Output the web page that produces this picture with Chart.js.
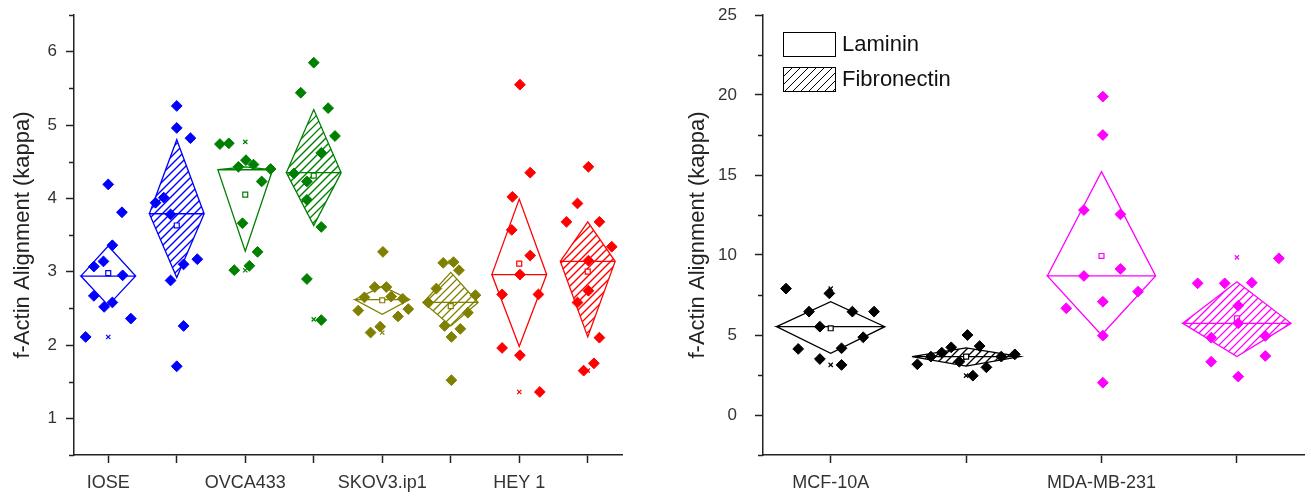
<!DOCTYPE html>
<html>
<head>
<meta charset="utf-8">
<script src="https://cdn.jsdelivr.net/npm/chart.js"></script>
<style>
    html, body { margin: 0; padding: 0; background: #fff; }
    body { width: 1311px; height: 497px; position: relative; overflow: hidden; }
    canvas { position: absolute; top: 0; }
    #left { left: 0; }
    #right { left: 660px; }
</style>
</head>
<body>
<canvas id="left" width="640" height="497"></canvas>
<canvas id="right" width="651" height="497"></canvas>
<script>
// ---- left panel (ovarian cell lines) ----
const leftCategories = ['IOSE', 'OVCA433', 'SKOV3.ip1', 'HEY 1'];
const leftCategoryPos = [1, 3, 5, 7];
const leftGroupPos = [1, 2, 3, 4, 5, 6, 7, 8];
const leftColors = ['#0000ff', '#0000ff', '#008000', '#008000', '#808000', '#808000', '#ff0000', '#ff0000'];
const leftHatched = [false, true, false, true, false, true, false, true];
const leftQ1 = [2.54, 2.92, 3.28, 3.63, 2.42, 2.26, 1.98, 2.11];
const leftMedian = [2.94, 3.79, 4.39, 4.35, 2.62, 2.58, 2.96, 3.14];
const leftQ3 = [3.35, 4.80, 4.43, 5.21, 2.80, 2.99, 3.99, 3.68];
const leftMean = [2.98, 3.63, 4.05, 4.31, 2.61, 2.53, 3.11, 3.00];
const leftMin = [2.11, 1.71, 3.02, 2.35, 2.17, 1.52, 1.36, 1.65];
const leftMax = [4.19, 5.26, 4.77, 5.85, 3.27, 3.13, 5.55, 4.43];
const leftYTicks = [1, 2, 3, 4, 5, 6];
const leftYMinor = [0.5, 1.5, 2.5, 3.5, 4.5, 5.5, 6.5];

// [jittered x, kappa]
const ioseLam = [[1.00, 4.19], [1.20, 3.81], [1.06, 3.36], [0.93, 3.14], [0.79, 3.07], [1.21, 2.95],
    [0.79, 2.67], [1.06, 2.58], [0.94, 2.52], [1.33, 2.36], [0.67, 2.11]];
const ioseFib = [[2.00, 5.26], [2.00, 4.96], [2.20, 4.82], [1.69, 3.94], [1.81, 4.01], [1.91, 3.78],
    [2.10, 3.10], [2.30, 3.17], [1.91, 2.88], [2.10, 2.26], [2.00, 1.71]];
const ovcaLam = [[2.63, 4.74], [2.76, 4.75], [2.90, 4.43], [3.01, 4.52], [3.12, 4.46], [3.37, 4.40],
    [3.24, 4.23], [2.96, 3.66], [3.18, 3.27], [3.06, 3.08], [2.84, 3.02]];
const ovcaFib = [[4.00, 5.85], [3.81, 5.44], [4.21, 5.23], [4.31, 4.85], [4.11, 4.62], [3.71, 4.34],
    [3.90, 4.23], [3.90, 3.98], [4.11, 3.61], [3.90, 2.90], [4.11, 2.34]];
const skovLam = [[5.01, 3.27], [4.89, 2.79], [5.06, 2.79], [4.74, 2.65], [5.13, 2.66], [5.30, 2.63],
    [4.65, 2.47], [5.38, 2.49], [5.23, 2.39], [4.97, 2.25], [4.83, 2.17]];
const skovFib = [[5.89, 3.12], [6.04, 3.13], [6.12, 3.02], [5.79, 2.77], [5.67, 2.58], [6.36, 2.68],
    [6.25, 2.44], [5.91, 2.26], [6.14, 2.22], [6.01, 2.11], [6.01, 1.52]];
const heyLam = [[7.01, 5.55], [7.16, 4.35], [6.90, 4.02], [6.89, 3.57], [7.16, 3.22], [7.01, 2.96],
    [6.75, 2.69], [7.28, 2.69], [6.75, 1.96], [7.01, 1.86], [7.30, 1.36]];
const heyFib = [[8.01, 4.43], [7.85, 3.93], [7.69, 3.68], [8.17, 3.68], [8.35, 3.34], [8.01, 3.15],
    [8.01, 2.74], [7.85, 2.58], [8.17, 2.10], [8.09, 1.75], [7.94, 1.65]];

// ---- right panel (breast cell lines) ----
const rightCategories = ['MCF-10A', 'MDA-MB-231'];
const rightCategoryPos = [1, 3];
const rightGroupPos = [1, 2, 3, 4];
const rightColors = ['#000000', '#000000', '#ff00ff', '#ff00ff'];
const rightHatched = [false, true, false, true];
const rightQ1 = [3.85, 3.05, 5.00, 3.65];
const rightMedian = [5.52, 3.65, 8.69, 5.73];
const rightQ3 = [7.08, 4.20, 15.21, 8.33];
const rightMean = [5.42, 3.65, 9.94, 6.04];
const rightMin = [3.13, 2.46, 2.02, 2.40];
const rightMax = [7.90, 5.00, 19.90, 9.85];
const rightYTicks = [0, 5, 10, 15, 20, 25];
const rightYMinor = [-2.5, 2.5, 7.5, 12.5, 17.5, 22.5];

const mcfLam = [[0.67, 7.90], [0.99, 7.60], [0.84, 6.46], [1.16, 6.46], [1.32, 6.46], [0.92, 5.52],
    [1.24, 4.86], [0.76, 4.13], [1.08, 4.17], [0.92, 3.50], [1.08, 3.13]];
const mcfFib = [[2.01, 5.00], [1.89, 4.23], [2.10, 4.31], [1.82, 3.90], [1.74, 3.65], [2.26, 3.65],
    [2.36, 3.79], [1.95, 3.33], [1.64, 3.17], [2.15, 2.98], [2.05, 2.46]];
const mdaLam = [[3.01, 19.90], [3.01, 17.50], [2.87, 12.81], [3.14, 12.54], [3.14, 9.13], [2.87, 8.69],
    [3.27, 7.71], [3.01, 7.08], [2.74, 6.67], [3.01, 4.96], [3.01, 2.02]];
const mdaFib = [[4.31, 9.79], [3.71, 8.23], [3.91, 8.23], [4.11, 8.27], [4.01, 6.83], [4.01, 5.73],
    [3.81, 4.83], [4.21, 4.94], [4.21, 3.69], [3.81, 3.33], [4.01, 2.40]];

const legendLabels = ['Laminin', 'Fibronectin'];

const FONT = "'Liberation Sans', Arial, sans-serif";
const BOX_HALF = 0.4;   // half width of a diamond box, in x units
const HATCH_STEP = 8;
Chart.defaults.font.family = FONT;

// "/" hatching inside whatever path is currently clipped
function strokeHatch(ctx, color, left, top, right, bottom, width) {
    ctx.strokeStyle = color;
    ctx.lineWidth = width;
    ctx.beginPath();
    const start = Math.floor((left + top) / HATCH_STEP) * HATCH_STEP;
    for (let c = start; c <= right + bottom + HATCH_STEP; c += HATCH_STEP) {
        ctx.moveTo(c - bottom, bottom);
        ctx.lineTo(c - top, top);
    }
    ctx.stroke();
}

function makeDatasets(groups, pos, colors, q1, med, q3, mean, lo, hi) {
    const sets = [];
    const w = BOX_HALF;
    groups.forEach((pts, i) => {
        sets.push({
            type: 'scatter', order: 0,
            data: pts.map(p => ({ x: p[0], y: p[1] })),
            pointStyle: 'rectRot', pointRadius: 5.4, pointHoverRadius: 5.4,
            pointBackgroundColor: colors[i], pointBorderColor: colors[i], pointBorderWidth: 1
        });
        // diamond outline: median - q3 - median - q1 - median, plus the median bar
        sets.push({
            type: 'line', order: 2,
            data: [
                { x: pos[i] - w, y: med[i] }, { x: pos[i], y: q3[i] }, { x: pos[i] + w, y: med[i] },
                { x: pos[i], y: q1[i] }, { x: pos[i] - w, y: med[i] }, { x: pos[i] + w, y: med[i] }
            ],
            borderColor: colors[i], borderWidth: 1.3, pointRadius: 0, tension: 0, fill: false
        });
    });
    sets.push({
        type: 'scatter', order: 1,
        data: pos.map((p, i) => ({ x: p, y: mean[i] })),
        pointStyle: 'rect', pointRadius: 3.5,
        pointBackgroundColor: '#ffffff', pointBorderColor: colors, pointBorderWidth: 1.2
    });
    sets.push({
        type: 'scatter', order: 1,
        data: pos.map((p, i) => ({ x: p, y: lo[i] })).concat(pos.map((p, i) => ({ x: p, y: hi[i] }))),
        pointStyle: 'crossRot', pointRadius: 3,
        pointBorderColor: colors.concat(colors), pointBorderWidth: 1.2
    });
    return sets;
}

// hatched fill of the fibronectin diamonds, placed through the scales
function hatchBoxes(pos, hatched, colors, q1, med, q3) {
    return {
        id: 'hatchBoxes',
        beforeDatasetsDraw(chart) {
            const xs = chart.scales.x, ys = chart.scales.y, ctx = chart.ctx;
            pos.forEach((p, i) => {
                if (!hatched[i]) return;
                const xl = xs.getPixelForValue(p - BOX_HALF);
                const xc = xs.getPixelForValue(p);
                const xr = xs.getPixelForValue(p + BOX_HALF);
                const ym = ys.getPixelForValue(med[i]);
                const yt = ys.getPixelForValue(q3[i]);
                const yb = ys.getPixelForValue(q1[i]);
                ctx.save();
                ctx.beginPath();
                ctx.moveTo(xl, ym); ctx.lineTo(xc, yt); ctx.lineTo(xr, ym); ctx.lineTo(xc, yb);
                ctx.closePath();
                ctx.clip();
                strokeHatch(ctx, colors[i], xl, yt, xr, yb, 1.3);
                ctx.restore();
            });
        }
    };
}

function minorTicks(values) {
    return {
        id: 'minorTicks',
        afterDraw(chart) {
            const y = chart.scales.y;
            const ctx = chart.ctx;
            ctx.save();
            ctx.strokeStyle = '#222';
            ctx.lineWidth = 1.5;
            values.forEach(v => {
                const py = Math.round(y.getPixelForValue(v)) + 0.5;
                ctx.beginPath();
                ctx.moveTo(y.right, py);
                ctx.lineTo(y.right - 5, py);
                ctx.stroke();
            });
            ctx.restore();
        }
    };
}

const legendBox = {
    id: 'legendBox',
    afterDraw(chart) {
        const a = chart.chartArea;
        const ctx = chart.ctx;
        ctx.save();
        legendLabels.forEach((lab, i) => {
            const bx = a.left + 20, by = a.top + 17 + i * 35, bw = 52, bh = 24;
            ctx.fillStyle = '#fff';
            ctx.fillRect(bx, by, bw, bh);
            if (i === 1) {
                ctx.save();
                ctx.beginPath();
                ctx.rect(bx, by, bw, bh);
                ctx.clip();
                strokeHatch(ctx, '#000', bx, by, bx + bw, by + bh, 1);
                ctx.restore();
            }
            ctx.strokeStyle = '#000';
            ctx.lineWidth = 1;
            ctx.strokeRect(bx + 0.5, by + 0.5, bw, bh);
            ctx.fillStyle = '#111';
            ctx.font = '22px ' + FONT;
            ctx.textBaseline = 'middle';
            ctx.fillText(lab, bx + bw + 7, by + bh / 2 + 1);
        });
        ctx.restore();
    }
};

function makeOptions(c) {
    return {
        responsive: false,
        animation: false,
        events: [],
        layout: { padding: c.padding },
        plugins: { legend: { display: false }, tooltip: { enabled: false } },
        scales: {
            x: {
                type: 'linear', min: c.xMin, max: c.xMax,
                afterBuildTicks: s => { s.ticks = c.groupPos.map(v => ({ value: v })); },
                afterFit: s => { s.height = 42; s.paddingLeft = 0; s.paddingRight = 0; },
                ticks: {
                    autoSkip: false, maxRotation: 0, padding: 9, color: '#333',
                    font: { size: 18 },
                    callback: v => {
                        const k = c.catPos.indexOf(v);
                        return k >= 0 ? c.cats[k] : '';
                    }
                },
                grid: { drawOnChartArea: false, drawTicks: true, tickLength: 8, tickColor: '#222', tickWidth: 1.5 },
                border: { display: true, color: '#222', width: 1.5 }
            },
            y: {
                type: 'linear', min: c.yMin, max: c.yMax,
                afterBuildTicks: s => { s.ticks = c.yTicks.map(v => ({ value: v })); },
                afterFit: s => { s.width = c.yWidth; s.paddingTop = 0; s.paddingBottom = 0; },
                ticks: { padding: c.yPad, color: '#333', font: { size: 17 } },
                title: {
                    display: true, text: 'f-Actin Alignment (kappa)', color: '#222',
                    font: { size: 22 }, padding: { top: c.titlePad, bottom: 0 }
                },
                grid: { drawOnChartArea: false, drawTicks: true, tickLength: 8, tickColor: '#222', tickWidth: 1.5 },
                border: { display: true, color: '#222', width: 1.5 }
            }
        }
    };
}

new Chart(document.getElementById('left'), {
    type: 'scatter',
    data: {
        datasets: makeDatasets(
            [ioseLam, ioseFib, ovcaLam, ovcaFib, skovLam, skovFib, heyLam, heyFib],
            leftGroupPos, leftColors, leftQ1, leftMedian, leftQ3, leftMean, leftMin, leftMax)
    },
    options: makeOptions({
        padding: { left: 0, right: 18, top: 15, bottom: 0 },
        xMin: 0.5, xMax: 8.5, groupPos: leftGroupPos, catPos: leftCategoryPos, cats: leftCategories,
        yMin: 0.5, yMax: 6.5, yTicks: leftYTicks, yWidth: 74, yPad: 9, titlePad: 10
    }),
    plugins: [hatchBoxes(leftGroupPos, leftHatched, leftColors, leftQ1, leftMedian, leftQ3), minorTicks(leftYMinor)]
});

new Chart(document.getElementById('right'), {
    type: 'scatter',
    data: {
        datasets: makeDatasets(
            [mcfLam, mcfFib, mdaLam, mdaFib],
            rightGroupPos, rightColors, rightQ1, rightMedian, rightQ3, rightMean, rightMin, rightMax)
    },
    options: makeOptions({
        padding: { left: 0, right: 1, top: 15, bottom: 0 },
        xMin: 0.5, xMax: 4.5, groupPos: rightGroupPos, catPos: rightCategoryPos, cats: rightCategories,
        yMin: -2.5, yMax: 25, yTicks: rightYTicks, yWidth: 103, yPad: 18, titlePad: 25
    }),
    plugins: [hatchBoxes(rightGroupPos, rightHatched, rightColors, rightQ1, rightMedian, rightQ3),
        minorTicks(rightYMinor), legendBox]
});
</script>
</body>
</html>
